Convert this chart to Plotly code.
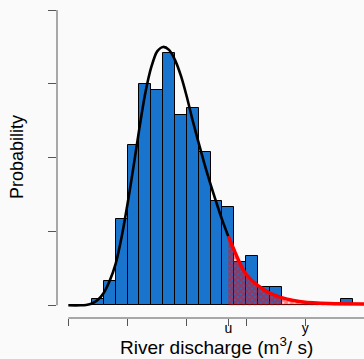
import plotly.graph_objects as go

# Histogram (counts per bin, bin width 0.2 starting at 0.4)
bin_start = 0.4
bin_width = 0.2
counts = [1, 4, 14, 26, 36, 35, 41, 31, 32, 25, 17, 16, 7, 8, 3, 3, 0, 0, 0, 0, 0, 1]
n_total = sum(counts)

# Fitted body density (black)
body_x = [0.0, 0.2, 0.3, 0.4, 0.5, 0.6, 0.7, 0.8, 0.9, 1.0, 1.1, 1.2, 1.3, 1.4, 1.5, 1.6,
          1.7, 1.8, 1.9, 2.0, 2.1, 2.2, 2.3, 2.4, 2.5, 2.6, 2.7]
body_y = [0.0, 0.0, 0.001, 0.005, 0.015, 0.034, 0.067, 0.113, 0.185, 0.275, 0.375, 0.48,
          0.575, 0.645, 0.688, 0.700, 0.692, 0.665, 0.622, 0.565, 0.500, 0.440, 0.382,
          0.328, 0.278, 0.230, 0.187]

# Tail density above threshold u (red)
tail_x = [2.7, 2.8, 2.9, 3.0, 3.2, 3.4, 3.6, 3.8, 4.0, 4.2, 4.5, 5.0]
tail_y = [0.187, 0.149, 0.113, 0.084, 0.053, 0.033, 0.021, 0.013, 0.008, 0.006, 0.0045, 0.0035]

x_tickvals = [0, 1, 2, 2.7, 3, 4, 5]
x_ticktext = ["", "", "", "u", "", "y", ""]
y_tickvals = [0, 0.2, 0.4, 0.6, 0.8]

centers = [bin_start + bin_width * (i + 0.5) for i in range(len(counts))]
dens = [c / (n_total * bin_width) for c in counts]

FONT = "Liberation Sans, Arial, Helvetica, sans-serif"
AX = "#555555"

fig = go.Figure()
fig.add_trace(go.Bar(x=centers, y=dens, width=bin_width,
                     marker=dict(color="#1874CD", line=dict(color="black", width=1)),
                     hoverinfo="skip"))
fig.add_trace(go.Scatter(x=tail_x, y=tail_y, mode="none", fill="tozeroy",
                         fillcolor="rgba(0,0,0,0)",
                         fillpattern=dict(shape="x", fgcolor="#ff0000", size=4, solidity=0.8,
                                          fillmode="overlay", bgcolor="rgba(0,0,0,0)"),
                         line=dict(shape="spline"), hoverinfo="skip"))
fig.add_trace(go.Scatter(x=body_x, y=body_y, mode="lines",
                         line=dict(color="black", width=2.6, shape="spline", smoothing=0.8),
                         hoverinfo="skip"))
fig.add_trace(go.Scatter(x=tail_x, y=tail_y, mode="lines",
                         line=dict(color="red", width=3.5, shape="spline", smoothing=0.8),
                         hoverinfo="skip"))

fig.update_layout(
    width=364, height=359,
    margin=dict(l=57, r=0, t=0, b=41),
    paper_bgcolor="#fafafa", plot_bgcolor="#fafafa",
    showlegend=False, bargap=0,
    font=dict(family=FONT, color="black"),
    xaxis=dict(range=[-0.191, 4.991], showgrid=False, zeroline=False, showline=False,
               ticks="outside", ticklen=7, tickwidth=1, tickcolor=AX,
               tickvals=x_tickvals, ticktext=x_ticktext, ticklabelstandoff=-10,
               tickfont=dict(size=14, family=FONT, color="black")),
    yaxis=dict(range=[-0.0344, 0.8271], showgrid=False, zeroline=False, showline=False,
               ticks="outside", ticklen=8, tickwidth=1, tickcolor=AX,
               tickvals=y_tickvals, showticklabels=False),
    shapes=[
        dict(type="line", xref="x", yref="paper", x0=0, x1=5.2, y0=0, y1=0,
             line=dict(color=AX, width=1)),
        dict(type="line", xref="paper", yref="y", x0=0, x1=0, y0=0, y1=0.8,
             line=dict(color=AX, width=1)),
    ],
    annotations=[
        dict(text="Probability", xref="paper", yref="paper", x=(17 - 57) / 307,
             y=(318 - 157) / 318, textangle=-90, showarrow=False,
             xanchor="center", yanchor="middle", font=dict(size=18, family=FONT)),
        dict(text="River discharge (m<sup>3</sup>/ s)", xref="paper", yref="paper",
             x=(216.4 - 57) / 307, y=(318 - 346) / 318, showarrow=False,
             xanchor="center", yanchor="middle", font=dict(size=19, family=FONT)),
    ],
)

fig.write_html("out.html")
